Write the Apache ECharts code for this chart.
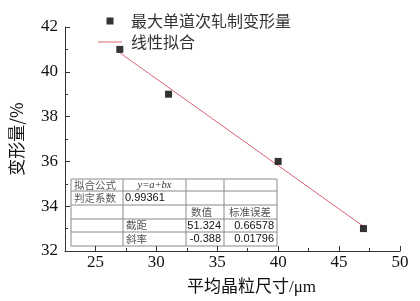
<!DOCTYPE html>
<html>
<head>
<meta charset="utf-8">
<script src="https://cdn.jsdelivr.net/npm/echarts@6/dist/echarts.min.js"></script>
<style>html,body{margin:0;padding:0;background:#fff}#c{width:420px;height:301px}</style>
</head>
<body>
<div id="c"></div>
<script>
// ---- data ----
const grainSize = [27, 31, 40, 47];
const deformation = [41, 39, 36, 33];
const fitX = [27, 47];
const fitY = [40.85, 33.1];
const xMajorTicks = [25, 30, 35, 40, 45, 50];
const xMinorTicks = [27.5, 32.5, 37.5, 42.5, 47.5];
const seriesNames = ['最大单道次轧制变形量', '线性拟合'];
const xTitle = '平均晶粒尺寸/μm';
const yTitle = '变形量/%';
const tableRows = [
  ['拟合公式', 'y=a+bx', '', ''],
  ['判定系数', '0.99361', '', ''],
  ['', '', '数值', '标准误差'],
  ['', '截距', '51.324', '0.66578'],
  ['', '斜率', '-0.388', '0.01796']
];

// ---- layout ----
const colEdges = [71, 123, 186, 224, 277];
const rowEdges = [179, 191, 205, 219, 232, 246];
const cjk = '"Noto Sans CJK SC", sans-serif';
const serif = '"Liberation Serif", "DejaVu Serif", serif';
const sans = '"Liberation Sans", Arial, sans-serif';
const fitColor = '#dc6473';

const graphics = [];
for (const y of rowEdges) {
  graphics.push({type:'line', shape:{x1:colEdges[0], y1:y, x2:colEdges[colEdges.length-1], y2:y},
    style:{stroke:'#8a8a8a', lineWidth:1}});
}
for (const x of colEdges) {
  graphics.push({type:'line', shape:{x1:x, y1:rowEdges[0], x2:x, y2:rowEdges[rowEdges.length-1]},
    style:{stroke:'#8a8a8a', lineWidth:1}});
}
function isNum(s){ return /^-?[0-9.]+$/.test(s); }
tableRows.forEach((row, r) => {
  const cy = (rowEdges[r] + rowEdges[r+1]) / 2;
  row.forEach((txt, c) => {
    if (!txt) return;
    let x, align, font, color = '#333', style = 'normal';
    if (txt === 'y=a+bx') {
      x = (colEdges[c] + colEdges[c+1]) / 2; align = 'center'; font = serif; style = 'italic';
    } else if (isNum(txt) && c >= 2) {
      x = colEdges[c+1] - 3; align = 'right'; font = sans; color = '#111';
    } else if (isNum(txt)) {
      x = colEdges[c] + 2; align = 'left'; font = sans; color = '#111';
    } else {
      x = colEdges[c] + (c >= 2 ? 5 : 3); align = 'left'; font = cjk; color = '#555';
    }
    graphics.push({type:'text', x:x, y:cy, style:{text:txt, align:align, verticalAlign:'middle',
      fontFamily:font, fontSize: isNum(txt) ? 11 : 10.5, fontStyle:style, fill:color}});
  });
});

const chart = echarts.init(document.getElementById('c'), null, {renderer:'canvas'});
chart.setOption({
  animation: false,
  backgroundColor: '#fff',
  grid: {left: 62, right: 20, top: 27, bottom: 45},
  legend: {
    orient: 'vertical', left: 93, top: 8, itemWidth: 24, itemHeight: 7, itemGap: 5,
    textStyle: {fontFamily: cjk, fontSize: 16, color: '#333', padding: [0,0,0,4], lineHeight: 16},
    data: [
      {name: seriesNames[0], icon: 'path://M0,0H7V7H0Z', itemStyle: {color: '#000'}},
      {name: seriesNames[1], icon: 'path://M0,0H24V1H0Z', itemStyle: {color: fitColor}}
    ]
  },
  xAxis: [{
    type: 'value', min: 22.5, max: 50, position: 'bottom',
    name: xTitle, nameLocation: 'middle', nameGap: 28,
    nameTextStyle: {fontFamily: serif + ', ' + cjk, fontSize: 17, color: '#111', padding: [0,0,0,38]},
    axisLine: {show: true, lineStyle: {color: '#333', width: 1}},
    axisTick: {show: true, inside: true, length: 5, customValues: xMajorTicks, lineStyle: {color: '#333'}},
    axisLabel: {customValues: xMajorTicks, fontFamily: serif, fontSize: 17, color: '#111', margin: 3},
    splitLine: {show: false}
  }, {
    type: 'value', min: 22.5, max: 50, position: 'bottom', offset: 0,
    axisLine: {show: false},
    axisTick: {show: true, inside: true, length: 3, customValues: xMinorTicks, lineStyle: {color: '#333'}},
    axisLabel: {show: false},
    splitLine: {show: false}
  }],
  yAxis: {
    type: 'value', min: 32, max: 42, interval: 2,
    name: yTitle, nameLocation: 'middle', nameGap: 40, nameRotate: 90,
    nameTextStyle: {fontFamily: cjk, fontSize: 17, color: '#111'},
    axisLine: {show: true, lineStyle: {color: '#333', width: 1}},
    axisTick: {show: true, inside: true, length: 5, lineStyle: {color: '#333'}},
    minorTick: {show: true, splitNumber: 2, length: 3, lineStyle: {color: '#333'}},
    axisLabel: {fontFamily: serif, fontSize: 17, color: '#111', margin: 7},
    splitLine: {show: false}
  },
  series: [{
    name: seriesNames[0], type: 'scatter', symbol: 'rect', symbolSize: 7,
    itemStyle: {color: '#000'},
    data: grainSize.map((x, i) => [x, deformation[i]])
  }, {
    name: seriesNames[1], type: 'line', symbol: 'none', z: 1,
    lineStyle: {color: fitColor, width: 1},
    itemStyle: {color: fitColor},
    data: fitX.map((x, i) => [x, fitY[i]])
  }],
  graphic: graphics
});
</script>
</body>
</html>
